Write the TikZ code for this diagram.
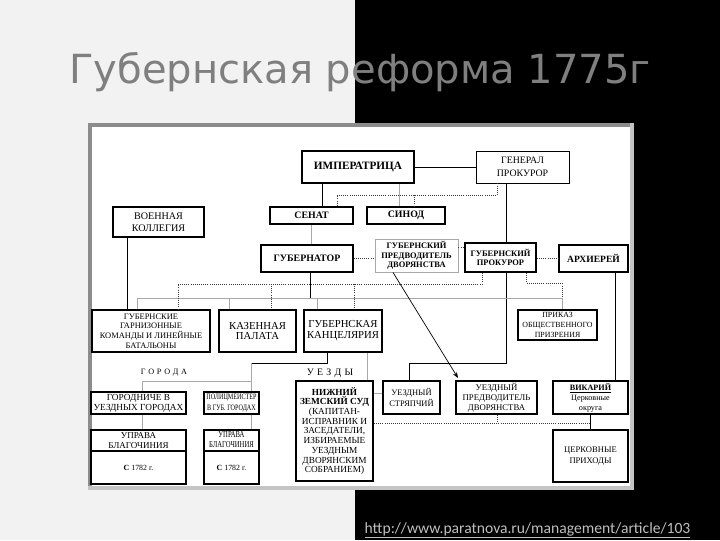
\documentclass[tikz,border=0pt]{standalone}
\usepackage{fontspec}
\setmainfont{Liberation Serif}
\newfontfamily\titlefont{DejaVu Sans}
\newfontfamily\urlfont{Carlito}
\usetikzlibrary{arrows.meta}
\definecolor{bgl}{HTML}{F2F2F2}
\definecolor{ttl}{HTML}{7F7F7F}
\definecolor{lnk}{HTML}{BFBFBF}
\definecolor{lgr}{HTML}{A8A8A8}
\definecolor{fra}{HTML}{8C8C8C}
\definecolor{frb}{HTML}{C4C4C4}
\definecolor{dtc}{HTML}{3A3A3A}
\newcommand\fsz[2]{\fontsize{#1pt}{#2pt}\selectfont\lineskiplimit=-6pt\relax}
\newcommand\sqz[1]{\scalebox{0.74}[1]{\begin{tabular}{@{}c@{}}#1\end{tabular}}}
\newcommand\mybox[7]{%
  \pgfmathsetmacro\bxw{(#4-#2)*0.025}%
  \pgfmathsetmacro\bxh{(#5-#3)*0.025}%
  \pgfmathsetmacro\bxx{(#2+#4)/2}%
  \pgfmathsetmacro\bxy{(#3+#5)/2}%
  \node[box,#6,minimum width=\bxw cm,minimum height=\bxh cm] (#1) at (\bxx,\bxy) {#7};}
\begin{document}
\begin{tikzpicture}[x=0.025cm,y=-0.025cm,
  box/.style={draw=black, inner sep=0pt, align=center, fill=white, text=black},
  dk/.style={draw=black, line width=0.65pt},
  gr/.style={draw=lgr, line width=0.65pt},
  dt/.style={draw=dtc, line width=0.6pt, dash pattern=on 0.6pt off 0.9pt},
]
\useasboundingbox (0,0) rectangle (720,540);
% background
\fill[bgl] (0,0) rectangle (355,540);
\fill[black] (355,0) rectangle (720,540);
% title and link
\node[anchor=base, text=ttl, inner sep=0pt, font=\titlefont\fontsize{28.5}{30}\selectfont] (title) at (360,83) {Губернская реформа 1775г};
\node[anchor=base, text=lnk, inner sep=0pt, font=\urlfont\fontsize{11.1}{12}\selectfont] (link) at (527.5,533) {\underline{http://www.paratnova.ru/management/article/103}};
% panel
\fill[white] (89,124) rectangle (630,487);
\fill[fra] (88,123) rectangle (631,126.5);
\fill[fra] (88,123) rectangle (91.5,489);
\fill[frb] (629.5,123) rectangle (633.5,489);
\fill[frb] (88,485.5) rectangle (633.5,489.5);
% boxes
\mybox{imp}{302}{151}{414}{183}{line width=1.8pt,font=\fsz{8}{9}\bfseries}{ИМПЕРАТРИЦА}
\mybox{gen}{476}{151}{569}{183}{line width=0.6pt,font=\fsz{7}{9}}{ГЕНЕРАЛ\\ПРОКУРОР}
\mybox{vk}{113}{207}{204}{237}{line width=1pt,font=\fsz{7.2}{8.7}}{ВОЕННАЯ\\КОЛЛЕГИЯ}
\mybox{sen}{270}{207}{353}{224}{line width=1.3pt,font=\fsz{7}{8}\bfseries}{СЕНАТ}
\mybox{sin}{367}{207}{445}{224}{line width=1.3pt,font=\fsz{7}{8}\bfseries}{СИНОД}
\mybox{gub}{261}{245}{353}{272}{line width=1pt,font=\fsz{7}{8}\bfseries}{ГУБЕРНАТОР}
\mybox{gpd}{375}{239}{458}{272}{draw=lgr,line width=0.6pt,font=\fsz{6}{6.6}\bfseries}{ГУБЕРНСКИЙ\\ПРЕДВОДИТЕЛЬ\\ДВОРЯНСТВА}
\mybox{gpr}{465}{243}{536}{272}{line width=1.4pt,font=\fsz{6}{6.8}\bfseries}{ГУБЕРНСКИЙ\\ПРОКУРОР}
\mybox{arh}{559}{245}{628}{272}{line width=1pt,font=\fsz{6.8}{8}\bfseries}{АРХИЕРЕЙ}
\mybox{gar}{92}{310}{210}{352}{line width=1pt,font=\fsz{6}{6.9}}{ГУБЕРНСКИЕ\\ГАРНИЗОННЫЕ\\КОМАНДЫ И ЛИНЕЙНЫЕ\\БАТАЛЬОНЫ}
\mybox{kaz}{219}{310}{296}{352}{line width=1pt,font=\fsz{7.6}{7.8}}{КАЗЕННАЯ\\ПАЛАТА}
\mybox{kan}{304}{310}{382}{352}{line width=1pt,font=\fsz{7.6}{7.8}}{ГУБЕРНСКАЯ\\КАНЦЕЛЯРИЯ}
\mybox{prk}{518}{310}{597}{340}{line width=1pt,font=\fsz{5.6}{7}}{ПРИКАЗ\\ОБЩЕСТВЕННОГО\\ПРИЗРЕНИЯ}
\mybox{gor}{91}{392}{186}{414}{line width=1pt,font=\fsz{6.6}{7.2}}{ГОРОДНИЧЕ В\\УЕЗДНЫХ ГОРОДАХ}
\mybox{pol}{204}{392}{259}{414}{line width=1pt,font=\fsz{5.9}{7.2}}{\sqz{ПОЛИЦМЕЙСТЕР\\В ГУБ. ГОРОДАХ}}
\mybox{uaa}{91}{430}{186}{451}{line width=1pt,font=\fsz{6.4}{7.2}}{УПРАВА\\БЛАГОЧИНИЯ}
\mybox{uab}{91}{451}{186}{484}{line width=1pt,font=\fsz{5.6}{7}}{\textbf{С} 1782 г.}
\mybox{uba}{204}{430}{259}{451}{line width=1pt,font=\fsz{6.4}{7.2}}{\sqz{УПРАВА\\БЛАГОЧИНИЯ}}
\mybox{ubb}{204}{451}{259}{484}{line width=1pt,font=\fsz{5.6}{7}}{\textbf{С} 1782 г.}
\mybox{nzs}{296}{381}{373}{481}{line width=1.4pt,font=\fsz{6.6}{6.9}}{\textbf{НИЖНИЙ}\\\textbf{ЗЕМСКИЙ СУД}\\(КАПИТАН-\\ИСПРАВНИК И\\ЗАСЕДАТЕЛИ,\\ИЗБИРАЕМЫЕ\\УЕЗДНЫМ\\ДВОРЯНСКИМ\\СОБРАНИЕМ)}
\mybox{str}{383}{381}{440}{414}{line width=1.3pt,font=\fsz{6}{7.2}}{УЕЗДНЫЙ\\СТРЯПЧИЙ}
\mybox{upd}{456}{381}{537}{414}{line width=1.3pt,font=\fsz{6.2}{7.1}}{УЕЗДНЫЙ\\ПРЕДВОДИТЕЛЬ\\ДВОРЯНСТВА}
\mybox{vik}{553}{381}{628}{414}{line width=1pt,font=\fsz{5.8}{7.1}}{\textbf{\underline{ВИКАРИЙ}}\\Церковные\\округа}
\mybox{cer}{553}{430}{628}{482}{line width=1pt,font=\fsz{6.1}{7.3}}{ЦЕРКОВНЫЕ\\ПРИХОДЫ}
% labels
\node[font=\fsz{5.8}{7}, inner sep=0pt] (lgor) at (164,373) {Г\,\,О\,\,Р\,\,О\,\,Д\,\,А};
\node[font=\fsz{7}{8}, inner sep=0pt] (luez) at (330,373) {У\,\,Е\,\,З\,\,Д\,\,Ы};
% solid connectors
\draw[dk] (imp) -- (gen);
\draw[dk] (imp.south -| 322,0) -- (sen.north -| 322,0);
\draw[gr] (imp.south -| 399,0) -- (sin.north -| 399,0);
\draw[gr] (sen.south) -- (sen.south |- gub.north);
\draw[dk] (gen.south -| 506,0) -- (gpr.north -| 506,0);
\coordinate (jpr) at (506,363);
\draw[dk] (gpr.south -| 506,0) -- (jpr) -| (str.north -| 409,0);
\draw[dk] (vk.south -| 127,0) -- (gar.north -| 127,0);
\coordinate (jgub) at (310,298);
\draw[dk] (gub.south -| 310,0) -- (jgub);
\draw[gr] (gar.north -| 137,0) -- (137,298) -- (562,298) -- (prk.north -| 562,0);
\draw[gr] (kaz.north -| 229,0) -- (229,298);
\draw[gr] (kan.north -| 317,0) -- (317,298);
\coordinate (jkan) at (327,363);
\draw[dk] (kan.south -| 327,0) -- (jkan) -- (251,363);
\draw[gr] (251,363) -- (pol.north -| 251,0);
\draw[gr] (251,381) -- (142,381) -- (gor.north -| 142,0);
\draw[gr] (kan.south -| 367,0) -- (nzs.north -| 367,0);
\draw[gr] (nzs.east |- 0,393) -- (str.west |- 0,393);
\draw[gr] (gor.south -| 142,0) -- (uaa.north -| 142,0);
\draw[gr] (pol.south -| 251,0) -- (uba.north -| 251,0);
\draw[dk] (arh.south -| 615,0) -- (vik.north -| 615,0);
\draw[dk] (vik.south -| 590,0) -- (cer.north -| 590,0);
\draw[draw=black, line width=0.5pt, -{Stealth[length=4.2pt,width=3.2pt]}] (gpd.south -| 393,0) -- (458,378);
% dotted connectors
\draw[dt] (gen.south -| 497,0) -- (497,195) -- (337,195) -- (sen.north -| 337,0);
\draw[dt] (414,195) -- (sin.north -| 414,0);
\draw[dt] (gub.east |- 0,258) -- (gpd.west |- 0,258);
\draw[dt] (gpd.east |- 0,247) -- (gpr.west |- 0,247);
\draw[dt] (gpr.east |- 0,258) -- (arh.west |- 0,258);
\draw[dt] (gpr.south -| 482,0) -- (482,284) -- (178,284) -- (gar.north -| 178,0);
\draw[dt] (271,284) -- (kaz.north -| 271,0);
\draw[dt] (354,284) -- (kan.north -| 354,0);
\draw[dt] (gpr.south -| 526,0) -- (526,283) -- (562,283) -- (562,298);
\draw[dt] (nzs.east |- 0,423) -- (590,423);
\draw[dt] (upd.south -| 497,0) -- (497,423);
\end{tikzpicture}
\end{document}
